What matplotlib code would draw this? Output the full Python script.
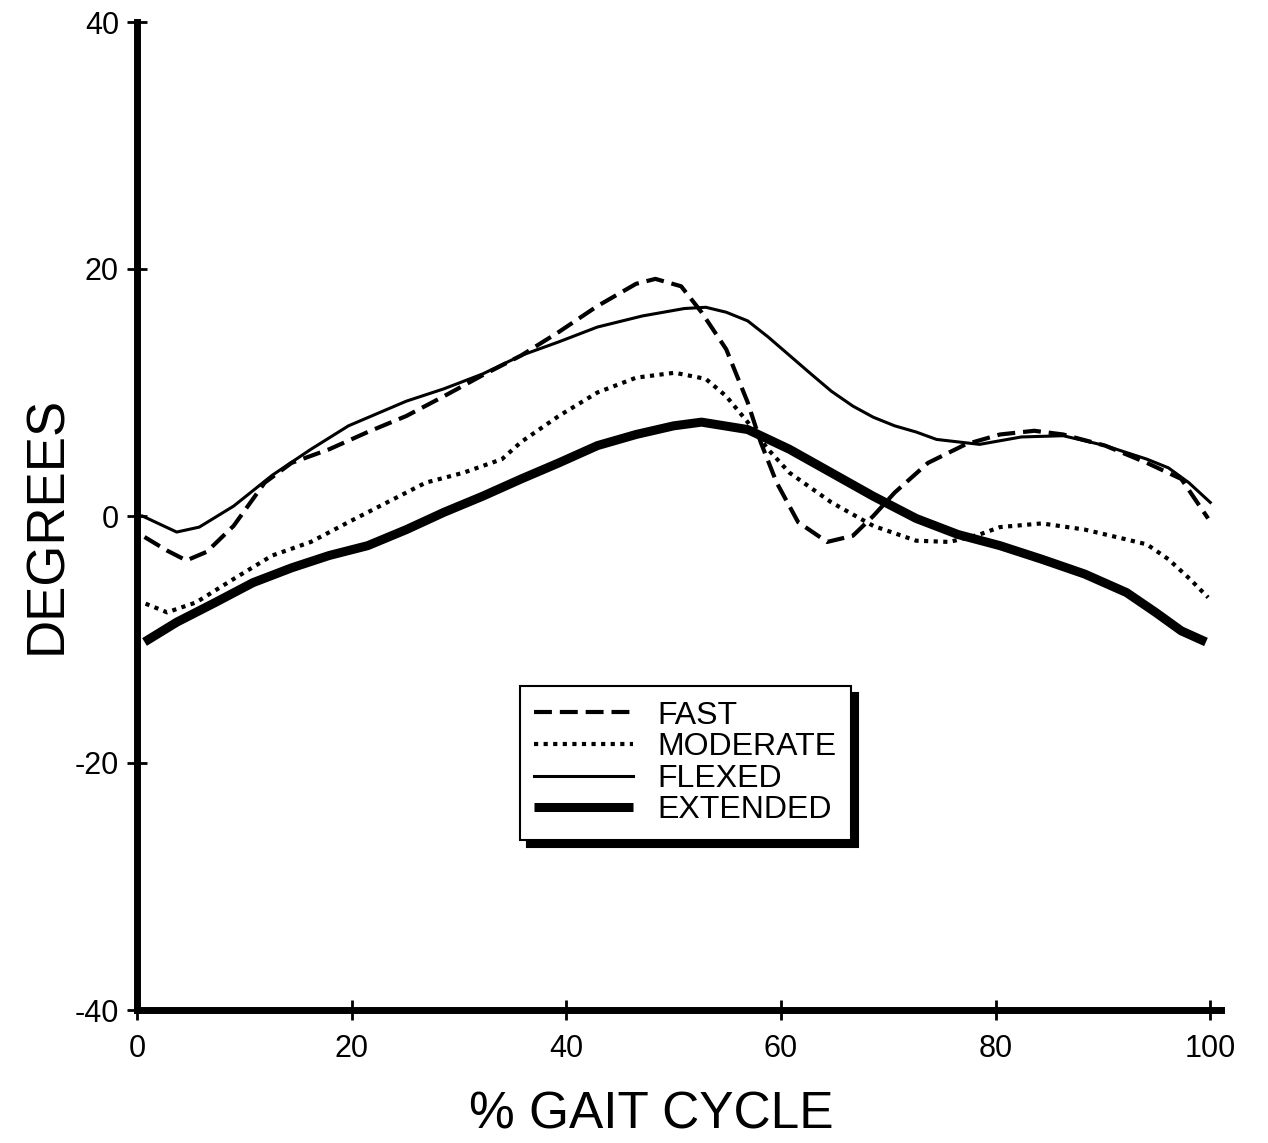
import numpy as np
import matplotlib.pyplot as plt

# values (x = % gait cycle, y = degrees)
fast_x = [0.7, 2.8, 4.6, 6.5, 9.0, 11.9, 14.4, 17.9, 21.5, 25.1, 28.6, 32.2, 35.8, 39.3,
          42.9, 46.5, 48.3, 50.7, 52.6, 54.9, 56.9, 58.1, 59.6, 61.6, 64.3, 66.7, 68.6,
          70.6, 73.7, 77.2, 80.4, 83.6, 86.3, 90.2, 94.1, 97.3, 99.8]
fast_y = [-1.7, -2.8, -3.6, -2.9, -0.8, 2.7, 4.3, 5.4, 6.8, 8.1, 9.7, 11.4, 13.0, 14.9,
          17.0, 18.8, 19.2, 18.6, 16.5, 13.5, 9.2, 6.0, 2.7, -0.5, -2.1, -1.6, 0.0,
          1.9, 4.3, 5.8, 6.6, 6.9, 6.6, 5.7, 4.3, 3.0, -0.2]

moderate_x = [0.8, 2.8, 5.5, 9.0, 12.6, 16.2, 19.7, 23.3, 26.9, 30.4, 34.0, 35.8, 39.3,
              42.9, 46.5, 50.1, 53.0, 54.9, 56.9, 58.8, 60.8, 64.7, 68.6, 72.6, 75.7,
              78.5, 80.4, 84.3, 88.3, 92.2, 94.1, 96.1, 98.1, 99.8]
moderate_y = [-7.1, -7.8, -7.0, -5.1, -3.2, -2.1, -0.5, 1.1, 2.7, 3.5, 4.6, 6.0, 8.1,
              10.0, 11.2, 11.6, 11.1, 9.7, 7.6, 5.4, 3.5, 1.1, -0.8, -2.0, -2.1,
              -1.5, -0.9, -0.6, -1.1, -1.9, -2.3, -3.5, -5.1, -6.6]

flexed_x = [0.5, 3.7, 5.8, 9.0, 12.6, 16.2, 19.7, 25.1, 28.6, 32.2, 35.8, 39.3, 42.9,
            47.1, 51.0, 53.0, 54.9, 56.9, 58.8, 60.8, 62.8, 64.7, 66.7, 68.6, 70.6,
            72.6, 74.5, 76.5, 78.5, 82.4, 86.3, 90.2, 94.1, 96.1, 98.0, 100.0]
flexed_y = [0.0, -1.3, -0.9, 0.8, 3.3, 5.4, 7.3, 9.3, 10.3, 11.5, 13.0, 14.1, 15.3,
            16.2, 16.8, 16.9, 16.5, 15.8, 14.5, 13.0, 11.5, 10.1, 8.9, 8.0, 7.3,
            6.8, 6.2, 6.0, 5.8, 6.4, 6.5, 5.7, 4.6, 3.9, 2.7, 1.1]

extended_x = [0.7, 3.7, 7.3, 10.8, 14.4, 17.9, 21.5, 25.1, 28.6, 32.2, 35.8, 39.3, 42.9,
              46.5, 50.0, 52.6, 56.9, 60.8, 64.7, 68.6, 72.6, 76.5, 80.4, 84.3, 88.3,
              92.2, 94.9, 97.3, 99.6]
extended_y = [-10.2, -8.6, -7.0, -5.4, -4.2, -3.2, -2.4, -1.1, 0.3, 1.6, 3.0, 4.3, 5.7,
              6.6, 7.3, 7.6, 7.0, 5.4, 3.5, 1.6, -0.2, -1.5, -2.4, -3.5, -4.7,
              -6.2, -7.8, -9.3, -10.2]

xticks = [0, 20, 40, 60, 80, 100]
yticks = [-40, -20, 0, 20, 40]

plt.rcParams['font.family'] = ['Liberation Sans', 'DejaVu Sans']
plt.rcParams['axes.unicode_minus'] = False

fig = plt.figure(figsize=(12.68, 11.43), dpi=100)
ax = fig.add_axes([137 / 1268, 1 - 1010 / 1143, (1221 - 137) / 1268, (1010 - 22) / 1143])

ax.plot(fast_x, fast_y, color='black', lw=3, dashes=(4.3, 1.9), label='FAST')
ax.plot(moderate_x, moderate_y, color='black', lw=3, dashes=(1, 1.3), label='MODERATE')
ax.plot(flexed_x, flexed_y, color='black', lw=2.2, label='FLEXED')
ax.plot(extended_x, extended_y, color='black', lw=6.5, solid_capstyle='butt', label='EXTENDED')

ax.set_xlim(0, 101)
ax.set_ylim(-40, 40)
ax.set_xticks(xticks)
ax.set_yticks(yticks)
for s in ['top', 'right']:
    ax.spines[s].set_visible(False)
for s in ['left', 'bottom']:
    ax.spines[s].set_linewidth(5)
ax.spines['left'].set_bounds(-40, 40)
ax.tick_params(direction='inout', length=14, width=2, labelsize=22, pad=6)
ax.tick_params(axis='x', pad=10)

fig.text(47 / 1268, 1 - 525 / 1143, 'DEGREES', fontsize=38, rotation=90,
         ha='center', va='center')
fig.text(651 / 1268, 1 - 1115 / 1143, '% GAIT CYCLE', fontsize=37,
         ha='center', va='center')

leg = ax.legend(loc='center', bbox_to_anchor=(0.506, 0.25), fontsize=23,
                handlelength=3.1, handletextpad=0.75, labelspacing=0.05,
                borderpad=0.45, fancybox=False, edgecolor='black',
                shadow={'ox': 5, 'oy': -5, 'color': 'black', 'alpha': 1})
leg.get_frame().set_linewidth(1.5)
leg.get_frame().set_alpha(1)

fig.savefig('out.png', dpi=100)
